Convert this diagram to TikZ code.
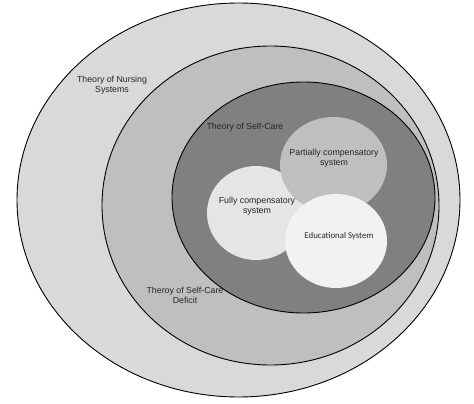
\documentclass[tikz,border=0pt]{standalone}
\usepackage{fontspec}
\setmainfont{Liberation Sans}
\newfontfamily\edufont{Carlito}
\begin{document}
\begin{tikzpicture}[x=1pt,y=-1pt,
  ring/.style={draw=black,line width=0.9pt},
  lbl/.style={font=\fontsize{8.8}{10}\selectfont,align=center,text=black!85,inner sep=0pt}]
\useasboundingbox (0,0) rectangle (474,404);
\fill[white] (0,0) rectangle (474,404);
\path[ring,fill=black!15] (238.5,200) ellipse [x radius=221.5,y radius=197];
\path[ring,fill=black!25] (270.5,205.5) ellipse [x radius=168.5,y radius=159.5];
\path[ring,fill=black!50] (303.5,197.5) ellipse [x radius=131.5,y radius=115.5];
\fill[black!10] (256,213) ellipse [x radius=49,y radius=47];
\fill[black!25] (333.5,165) ellipse [x radius=53.5,y radius=48];
\fill[black!5] (336,241) ellipse [x radius=51,y radius=47];
\node[lbl] (nurs) at (112,85) {Theory of Nursing\\Systems};
\node[lbl] (self) at (245,127) {Theory of Self-Care};
\node[lbl] (part) at (334,158) {Partially compensatory\\system};
\node[lbl] (full) at (257,206) {Fully compensatory\\system};
\node[lbl,font=\edufont\fontsize{8.8}{10}\selectfont] (edu) at (339,236) {Educational System};
\node[lbl] (def) at (185,295) {Theroy of Self-Care\\Deficit};
\end{tikzpicture}
\end{document}
